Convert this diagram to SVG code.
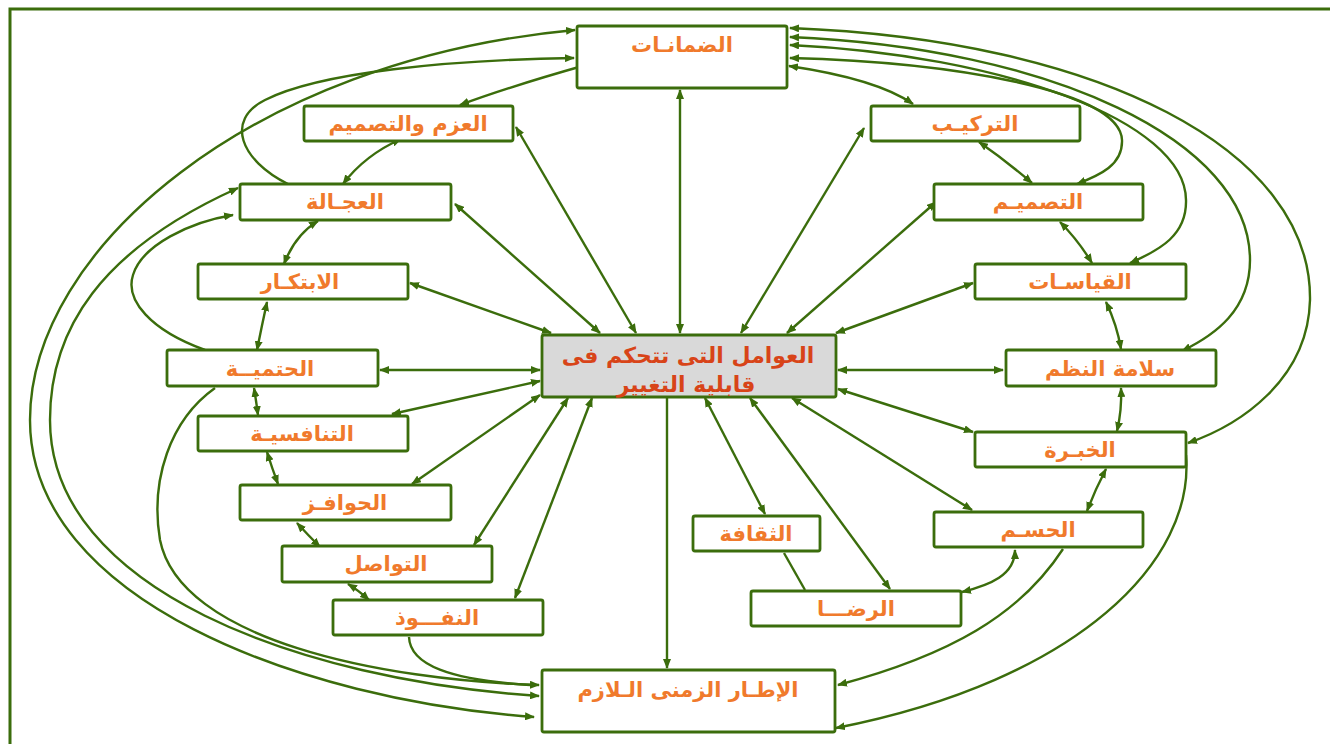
<svg xmlns="http://www.w3.org/2000/svg" width="1330" height="744" viewBox="0 0 1330 744">
<defs>
<marker id="ah" markerUnits="userSpaceOnUse" markerWidth="10" markerHeight="8" refX="9" refY="4" orient="auto-start-reverse">
<path d="M0,0 L10,4 L0,8 z" fill="#3b6d0c"/>
</marker>
<style>
.frame{fill:none;stroke:#3b6d0c;stroke-width:3}
.c{fill:none;stroke:#3b6d0c;stroke-width:2.4}
.b{marker-start:url(#ah);marker-end:url(#ah)}
.e{marker-end:url(#ah)}
.box{fill:#ffffff;stroke:#3b6d0c;stroke-width:2.8}
.cbox{fill:#d9d9d9;stroke:#3b6d0c;stroke-width:2.8}
.t{font-family:"DejaVu Sans","Noto Sans",sans-serif;font-weight:bold;font-size:21px;fill:#f07a2c;text-anchor:middle}
.ct{font-family:"DejaVu Sans","Noto Sans",sans-serif;font-weight:bold;font-size:22px;fill:#d84418;text-anchor:middle}
</style>
</defs>
<rect width="1330" height="744" fill="#ffffff"/>
<path class="frame" d="M10,744 L10,9 L1330,9"/>
<g id="connectors">
<path class="c b" d="M680,333 L680,90"/>
<path class="c b" d="M636,333 L516,127"/>
<path class="c b" d="M600,333 L455,204"/>
<path class="c b" d="M551,333 L410,283"/>
<path class="c b" d="M540,370 L380,370"/>
<path class="c b" d="M540,381 L392,414"/>
<path class="c b" d="M540,395 L412,484"/>
<path class="c b" d="M568,398 L474,545"/>
<path class="c b" d="M592,398 L515,598"/>
<path class="c e" d="M667,398 L667,668"/>
<path class="c b" d="M741,333 L864,128"/>
<path class="c b" d="M787,333 L936,202"/>
<path class="c b" d="M836,333 L973,283"/>
<path class="c b" d="M838,370 L1003,370"/>
<path class="c b" d="M838,389 L973,432"/>
<path class="c b" d="M792,398 L972,510"/>
<path class="c b" d="M750,398 L890,589"/>
<path class="c b" d="M705,398 L765,514"/>
<path class="c b" d="M789,66 C850,75 890,88 913,104"/>
<path class="c b" d="M1032,183 Q1005,160 979,142"/>
<path class="c b" d="M1092,263 Q1078,240 1060,222"/>
<path class="c b" d="M1121,349 Q1117,325 1106,302"/>
<path class="c b" d="M1117,431 Q1122,410 1121,388"/>
<path class="c b" d="M1087,511 Q1095,490 1106,469"/>
<path class="c b" d="M962,592 C990,585 1015,575 1015,550"/>
<path class="c" d="M784,553 L805,590"/>
<path class="c e" d="M1063,549 C1020,615 950,655 838,685"/>
<path class="c e" d="M1186,455 C1195,560 1080,680 836,728"/>
<path class="c b" d="M790,58 C950,62 1120,90 1122,140 C1123,165 1100,175 1077,184"/>
<path class="c b" d="M790,45 C1000,55 1185,120 1186,200 C1187,235 1160,250 1130,263"/>
<path class="c b" d="M790,37 C1050,48 1250,140 1250,260 C1250,310 1215,335 1182,351"/>
<path class="c b" d="M790,28 C1100,40 1312,150 1310,300 C1308,380 1240,425 1188,443"/>
<path class="c b" d="M586,65 C540,78 500,90 460,105"/>
<path class="c b" d="M343,184 Q365,155 401,139"/>
<path class="c e" d="M288,184 C240,160 225,120 265,100 C320,72 450,60 574,58"/>
<path class="c b" d="M575,30 C250,60 30,250 30,420 C30,600 300,700 534,717"/>
<path class="c b" d="M238,188 C100,250 50,330 50,420 C50,590 300,680 539,696"/>
<path class="c e" d="M205,350 C150,330 125,300 133,275 C142,245 190,222 233,215"/>
<path class="c e" d="M215,388 C170,420 150,480 160,540 C180,640 380,680 539,685"/>
<path class="c" d="M409,637 C410,665 450,680 530,685"/>
<path class="c b" d="M284,264 Q295,235 318,221"/>
<path class="c b" d="M257,350 Q262,325 267,302"/>
<path class="c b" d="M254,388 Q256,400 258,415"/>
<path class="c b" d="M267,452 Q272,468 278,484"/>
<path class="c b" d="M320,547 Q308,535 297,523"/>
<path class="c b" d="M369,600 Q358,590 348,584"/>
</g>
<g id="n-center"><rect class="cbox" x="542" y="335" width="294" height="62" rx="2"/><text class="ct" x="688" y="363">العوامل التى تتحكم فى</text><text class="ct" x="686" y="392">قابلية التغيير</text></g>
<g id="n-damanat"><rect class="box" x="577" y="26" width="210" height="62" rx="2"/><text class="t" x="682" y="52">الضمانـات</text></g>
<g id="n-azm"><rect class="box" x="304" y="106" width="209" height="35" rx="2"/><text class="t" x="408" y="131">العزم والتصميم</text></g>
<g id="n-tarkib"><rect class="box" x="871" y="106" width="209" height="35" rx="2"/><text class="t" x="975" y="131">التركيـب</text></g>
<g id="n-ajala"><rect class="box" x="240" y="184" width="211" height="36" rx="2"/><text class="t" x="345" y="209">العجـالة</text></g>
<g id="n-tasmim"><rect class="box" x="934" y="184" width="209" height="36" rx="2"/><text class="t" x="1038" y="209">التصميـم</text></g>
<g id="n-ibtikar"><rect class="box" x="198" y="264" width="210" height="35" rx="2"/><text class="t" x="300" y="289">الابتكـار</text></g>
<g id="n-qiyasat"><rect class="box" x="975" y="264" width="211" height="35" rx="2"/><text class="t" x="1080" y="289">القياسـات</text></g>
<g id="n-hatmiya"><rect class="box" x="167" y="350" width="211" height="36" rx="2"/><text class="t" x="270" y="376">الحتميــة</text></g>
<g id="n-salama"><rect class="box" x="1006" y="350" width="210" height="36" rx="2"/><text class="t" x="1110" y="376">سلامة النظم</text></g>
<g id="n-tanafusiya"><rect class="box" x="198" y="416" width="210" height="35" rx="2"/><text class="t" x="302" y="441">التنافسيـة</text></g>
<g id="n-khibra"><rect class="box" x="975" y="432" width="211" height="35" rx="2"/><text class="t" x="1080" y="457">الخبـرة</text></g>
<g id="n-hawafiz"><rect class="box" x="240" y="485" width="211" height="35" rx="2"/><text class="t" x="345" y="510">الحوافـز</text></g>
<g id="n-hasm"><rect class="box" x="934" y="512" width="209" height="35" rx="2"/><text class="t" x="1038" y="537">الحسـم</text></g>
<g id="n-thaqafa"><rect class="box" x="693" y="516" width="127" height="35" rx="2"/><text class="t" x="756" y="541">الثقافة</text></g>
<g id="n-tawasul"><rect class="box" x="282" y="546" width="210" height="36" rx="2"/><text class="t" x="386" y="571">التواصل</text></g>
<g id="n-nufuz"><rect class="box" x="333" y="600" width="210" height="35" rx="2"/><text class="t" x="437" y="625">النفـــوذ</text></g>
<g id="n-rida"><rect class="box" x="751" y="591" width="210" height="35" rx="2"/><text class="t" x="856" y="616">الرضـــا</text></g>
<g id="n-itar"><rect class="box" x="542" y="670" width="293" height="62" rx="2"/><text class="t" x="688" y="697">الإطـار الزمنى الـلازم</text></g>
</svg>
